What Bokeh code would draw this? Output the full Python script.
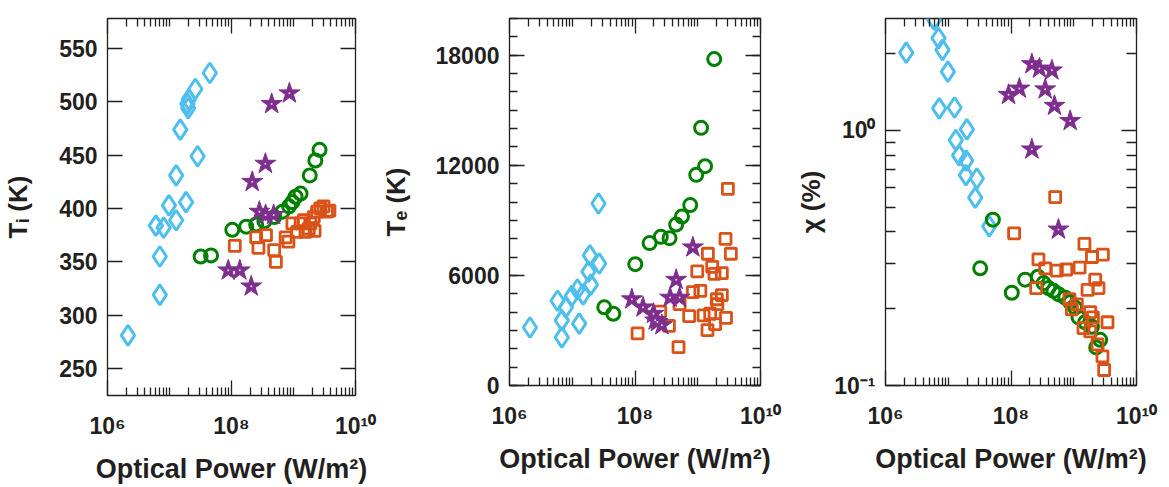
from bokeh.plotting import figure
from bokeh.models import Range1d, FixedTicker, LogAxis, LinearAxis, CustomJSTickFormatter
from bokeh.layouts import row
from bokeh.embed import file_html
from bokeh.resources import INLINE

# ---------------- data ----------------
# Panel 1: ion temperature (K)
P1_DIA_X = [2.14e6, 6.98e6, 6.98e6, 6.03e6, 8.05e6, 9.8e6, 1.28e7, 1.28e7, 1.85e7, 2.84e7,
            1.49e7, 1.94e7, 2.0e7, 2.04e7, 2.61e7, 4.47e7]
P1_DIA_Y = [281, 319, 355, 384, 382, 403, 389, 431, 406, 449, 474, 498, 494, 502, 512, 527]
P1_CIR_X = [3.18e7, 4.68e7, 1.03e8, 1.73e8, 2.50e8, 3.39e8, 4.89e8, 6.64e8, 8.47e8, 9.6e8,
            1.08e9, 1.30e9, 1.83e9, 2.25e9, 2.63e9]
P1_CIR_Y = [355, 356, 380, 383, 385, 388, 392, 397, 402, 406, 411, 414, 431, 445, 455]
P1_SQR_X = [1.13e8, 2.50e8, 2.72e8, 3.60e8, 4.88e8, 5.20e8, 7.48e8, 8.28e8, 9.6e8, 1.15e9,
            1.30e9, 1.47e9, 1.56e9, 1.87e9, 2.12e9, 2.40e9, 2.70e9, 3.05e9, 3.45e9, 3.80e9,
            2.19e9, 1.76e9]
P1_SQR_Y = [365, 373, 363, 375, 361, 350, 373, 369, 386, 378, 386, 389, 378, 386, 392, 397,
            400, 402, 397, 398, 379, 381]
P1_STAR_X = [8.87e7, 1.36e8, 2.08e8, 2.16e8, 3.52e8, 2.82e8, 3.55e8, 4.79e8, 4.45e8, 8.59e8]
P1_STAR_Y = [342, 342, 327, 425, 442, 397, 394, 394, 498, 508]

# Panel 2: electron temperature (K)
P2_DIA_X = [2.12e6, 6.82e6, 6.82e6, 5.83e6, 7.91e6, 9.86e6, 1.21e7, 1.49e7, 1.29e7, 1.98e7,
            1.81e7, 1.91e7, 2.69e7, 2.62e7]
P2_DIA_Y = [3160, 2620, 3550, 4620, 4260, 4880, 5230, 4970, 3370, 5500, 6210, 7090, 6650, 9920]
P2_CIR_X = [3.24e7, 4.51e7, 1.01e8, 1.71e8, 2.58e8, 3.55e8, 4.53e8, 5.60e8, 7.59e8, 9.46e8,
            1.31e9, 1.13e9, 1.83e9]
P2_CIR_Y = [4260, 3910, 6610, 7760, 8100, 8030, 8770, 9210, 9830, 11480, 11950, 14040, 17790]
P2_SQR_X = [1.10e8, 2.52e8, 3.47e8, 4.94e8, 5.13e8, 7.31e8, 8.36e8, 9.82e8, 1.10e9, 1.24e9,
            1.43e9, 1.45e9, 1.58e9, 1.70e9, 1.85e9, 1.89e9, 2.01e9, 2.06e9, 2.42e9, 2.42e9,
            2.77e9, 2.82e9, 3.02e9, 3.37e9]
P2_SQR_Y = [2840, 4030, 3250, 2090, 4440, 3780, 5090, 6220, 5160, 3820, 3020, 7180, 3910, 6470,
            6080, 3340, 4700, 4440, 6120, 4930, 7990, 3690, 10720, 7180]
P2_STAR_X = [8.91e7, 1.34e8, 1.97e8, 2.28e8, 2.68e8, 2.10e8, 3.63e8, 4.53e8, 5.13e8, 8.36e8]
P2_STAR_Y = [4700, 4260, 3910, 3460, 3290, 3550, 4790, 5760, 4790, 7530]

# Panel 3: chi (%)
P3_DIA_X = [2.14e6, 5.97e6, 7.0e6, 8.09e6, 9.86e6, 7.18e6, 1.26e7, 1.98e7, 1.32e7, 1.49e7,
            1.93e7, 1.91e7, 2.86e7, 2.69e7, 4.50e7]
P3_DIA_Y = [2.02, 2.72, 2.30, 2.07, 1.70, 1.22, 1.23, 1.01, 0.916, 0.798, 0.762, 0.668, 0.648,
            0.545, 0.421]
P3_CIR_X = [5.14e7, 1.03e8, 3.23e7, 1.68e8, 2.68e8, 3.30e8, 3.96e8, 4.75e8, 5.71e8, 7.31e8,
            8.77e8, 1.05e9, 1.19e9, 1.52e9, 1.95e9, 2.64e9, 2.28e9]
P3_CIR_Y = [0.447, 0.231, 0.288, 0.260, 0.267, 0.252, 0.241, 0.235, 0.228, 0.221, 0.212, 0.202,
            0.185, 0.177, 0.170, 0.151, 0.141]
P3_SQR_X = [5.06e8, 1.12e8, 1.48e9, 1.95e9, 2.91e9, 2.74e8, 3.51e8, 5.38e8, 7.59e8, 1.24e9,
            2.52e8, 1.66e9, 2.20e9, 2.48e9, 8.55e8, 1.12e9, 9.33e8, 1.83e9, 2.02e9, 3.45e9,
            1.43e9, 1.83e9, 2.39e9, 2.87e9, 3.05e9]
P3_SQR_Y = [0.548, 0.395, 0.359, 0.319, 0.326, 0.312, 0.288, 0.282, 0.285, 0.290, 0.241, 0.237,
            0.260, 0.241, 0.218, 0.208, 0.199, 0.194, 0.185, 0.177, 0.168, 0.163, 0.145, 0.130,
            0.115]
P3_STAR_X = [2.15e8, 2.84e8, 4.49e8, 9.14e7, 1.36e8, 3.51e8, 4.93e8, 8.77e8, 2.15e8, 5.71e8]
P3_STAR_Y = [1.82, 1.75, 1.72, 1.38, 1.46, 1.45, 1.25, 1.09, 0.843, 0.409]

# ticks / labels
X_MAJOR = [1e6, 1e8, 1e10]
X_MINOR = [k * 10.0 ** n for n in range(6, 10) for k in range(1, 10) if not (k == 1 and n % 2 == 0)]
X_LABELS = {1e6: "10\u2076", 1e8: "10\u2078", 1e10: "10\u00b9\u2070"}
P1_YTICKS = [250, 300, 350, 400, 450, 500, 550]
P2_YTICKS = [0, 6000, 12000, 18000]
P2_YMINOR = list(range(0, 20001, 1000))
P3_YTICKS = [0.1, 1.0]
P3_YMINOR = [0.2, 0.3, 0.4, 0.5, 0.6, 0.7, 0.8, 0.9, 2.0]
P3_YLABELS = {0.1: "10\u207b\u00b9", 1.0: "10\u2070"}
X_TITLE = "Optical Power (W/m\u00b2)"
Y_TITLES = ["T\u1d62 (K)", "T\u2091 (K)", "\u03c7 (%)"]

# ---------------- style ----------------
FONT = "Liberation Sans"
INK = "#231f20"
BLUE = "#4DBEEE"
GREEN = "#008000"
ORANGE = "#D95319"
PURPLE = "#7E2F8E"
FRAME_H = 377
BOTTOM = 92


def style_axis(ax, labels, minor_len=8):
    ax.axis_line_color = None
    ax.major_tick_in = 15
    ax.major_tick_out = 0
    ax.minor_tick_in = minor_len
    ax.minor_tick_out = 0
    ax.major_tick_line_color = INK
    ax.minor_tick_line_color = INK
    ax.major_tick_line_width = 1.3
    ax.minor_tick_line_width = 1.3
    if labels:
        ax.major_label_text_font = FONT
        ax.major_label_text_font_style = "bold"
        ax.major_label_text_font_size = "23px"
        ax.major_label_text_color = INK
        ax.axis_label_text_font = FONT
        ax.axis_label_text_font_style = "bold"
        ax.axis_label_text_color = INK
    else:
        ax.formatter = CustomJSTickFormatter(code="return ''")
        ax.major_label_text_font_size = "1px"
        ax.major_label_text_alpha = 0
        ax.major_label_standoff = 0


def make_fig(width, left, right, top, y_range, y_type, yticker, ytitle, ystandoff,
             ylabels=None, yminor_len=8):
    p = figure(width=width, height=top + FRAME_H + BOTTOM, x_axis_type="log", y_axis_type=y_type,
               x_range=Range1d(1e6, 1e10), y_range=y_range, output_backend="svg",
               toolbar_location=None, min_border_left=left, min_border_right=right,
               min_border_top=top, min_border_bottom=BOTTOM)
    p.grid.visible = False
    p.outline_line_color = INK
    p.outline_line_width = 1.3
    p.background_fill_color = "white"
    p.border_fill_color = "white"
    xt = FixedTicker(ticks=X_MAJOR, minor_ticks=X_MINOR)
    bx = p.below[0]
    bx.ticker = xt
    style_axis(bx, True)
    bx.major_label_overrides = X_LABELS
    bx.major_label_standoff = 17
    bx.axis_label = X_TITLE
    bx.axis_label_text_font_size = "27px"
    bx.axis_label_standoff = 12
    tx = LogAxis(ticker=xt)
    style_axis(tx, False)
    p.add_layout(tx, "above")
    ly = p.left[0]
    ly.ticker = yticker
    style_axis(ly, True, yminor_len)
    ly.major_label_standoff = 10
    if ylabels:
        ly.major_label_overrides = ylabels
    ly.axis_label = ytitle
    ly.axis_label_text_font_size = "26px"
    ly.axis_label_standoff = ystandoff
    ry = LogAxis(ticker=yticker) if y_type == "log" else LinearAxis(ticker=yticker)
    style_axis(ry, False, yminor_len)
    p.add_layout(ry, "right")
    return p


def draw(p, dx, dy, cx, cy, sx, sy, tx, ty):
    p.scatter(dx, dy, marker="diamond", size=20, fill_color=None, line_color=BLUE, line_width=3)
    p.scatter(cx, cy, marker="circle", size=13, fill_color=None, line_color=GREEN, line_width=3)
    p.scatter(sx, sy, marker="square", size=11, fill_color=None, line_color=ORANGE, line_width=2.8)
    p.scatter(tx, ty, marker="star", size=22, fill_color=PURPLE, line_color=PURPLE, line_width=1)
    p.scatter(tx, ty, marker="circle", size=2, fill_color="#e8d8ea", line_color=None)


# Panel 1
f1 = make_fig(377, 104, 22, 18, Range1d(224.7, 578.1), "linear",
              FixedTicker(ticks=P1_YTICKS, minor_ticks=[]), Y_TITLES[0], 23)
draw(f1, P1_DIA_X, P1_DIA_Y, P1_CIR_X, P1_CIR_Y, P1_SQR_X, P1_SQR_Y, P1_STAR_X, P1_STAR_Y)

# Panel 2
f2 = make_fig(413, 132, 30, 8, Range1d(0, 20000), "linear",
              FixedTicker(ticks=P2_YTICKS, minor_ticks=P2_YMINOR), Y_TITLES[1], 22)
draw(f2, P2_DIA_X, P2_DIA_Y, P2_CIR_X, P2_CIR_Y, P2_SQR_X, P2_SQR_Y, P2_STAR_X, P2_STAR_Y)

# Panel 3
f3 = make_fig(371, 95, 25, 8, Range1d(0.1, 2.747), "log",
              FixedTicker(ticks=P3_YTICKS, minor_ticks=P3_YMINOR), Y_TITLES[2], 5, P3_YLABELS, 10)
draw(f3, P3_DIA_X, P3_DIA_Y, P3_CIR_X, P3_CIR_Y, P3_SQR_X, P3_SQR_Y, P3_STAR_X, P3_STAR_Y)

layout = row(f1, f2, f3)
open("out.html", "w").write(file_html(layout, INLINE))
